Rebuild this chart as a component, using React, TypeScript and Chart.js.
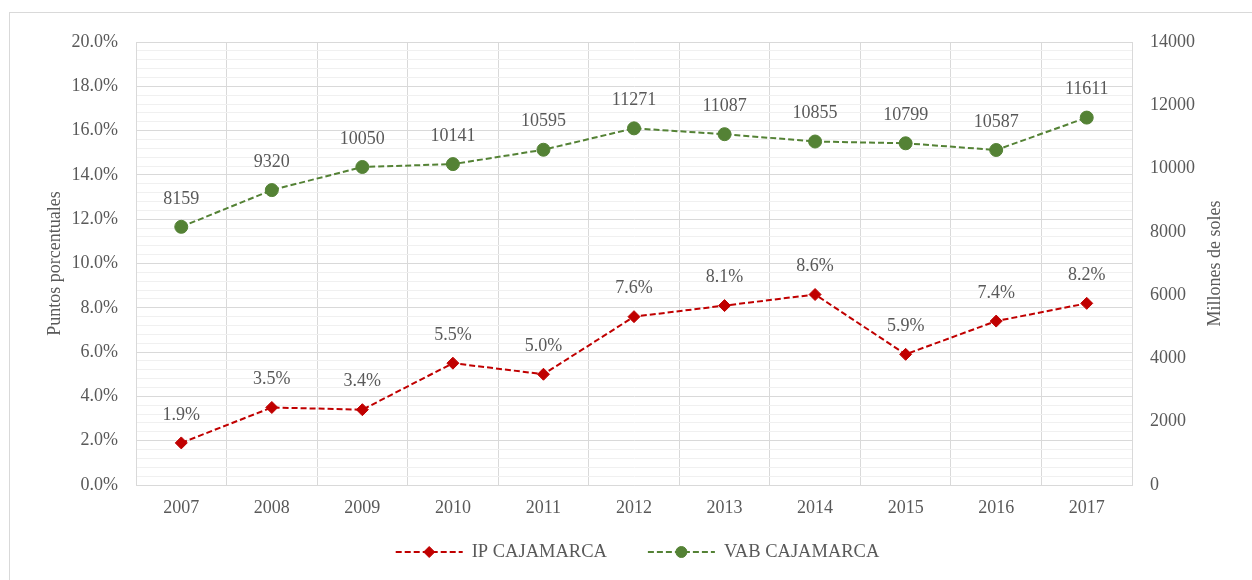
import React, { useEffect, useRef } from "react";
import { Chart, registerables } from "chart.js";

Chart.register(...registerables);

const categories = ["2007", "2008", "2009", "2010", "2011", "2012", "2013", "2014", "2015", "2016", "2017"];
const ipValues = [1.9, 3.5, 3.4, 5.5, 5.0, 7.6, 8.1, 8.6, 5.9, 7.4, 8.2];
const vabValues = [8159, 9320, 10050, 10141, 10595, 11271, 11087, 10855, 10799, 10587, 11611];
const ipLabel = "IP CAJAMARCA";
const vabLabel = "VAB CAJAMARCA";
const leftTitle = "Puntos porcentuales";
const rightTitle = "Millones de soles";
const pctMin = 0;
const pctMax = 20;
const pctMajorStep = 2;
const pctMinorStep = 0.4;
const solesMin = 0;
const solesMax = 14000;
const solesStep = 2000;

const FONT = "'Liberation Serif', 'Times New Roman', serif";
const TEXT = "#595959";
const RED = "#C00000";
const GREEN = "#548235";
const MAJOR = "#d9d9d9";
const MINOR = "#f0f0f0";

const isMajor = (v: number) => Math.abs(v / pctMajorStep - Math.round(v / pctMajorStep)) < 1e-6;

const decorPlugin = {
  id: "decor",
  afterDatasetsDraw(chart: any) {
    const ctx = chart.ctx;
    ctx.save();
    ctx.font = `18px ${FONT}`;
    ctx.fillStyle = TEXT;
    ctx.textAlign = "center";
    ctx.textBaseline = "middle";
    chart.data.datasets.forEach((ds: any, i: number) => {
      const meta = chart.getDatasetMeta(i);
      meta.data.forEach((pt: any, j: number) => {
        const v = ds.data[j];
        const txt = i === 0 ? v.toFixed(1) + "%" : String(v);
        ctx.fillText(txt, pt.x, pt.y - 28);
      });
    });
    ctx.restore();
  },
  afterDraw(chart: any) {
    const ctx = chart.ctx;
    const area = chart.chartArea;
    const cy = (area.top + area.bottom) / 2;
    ctx.save();
    // outer border
    ctx.strokeStyle = MAJOR;
    ctx.lineWidth = 1;
    ctx.strokeRect(9.5, 12.5, 3000, 3000);
    // axis titles
    ctx.font = `18px ${FONT}`;
    ctx.fillStyle = TEXT;
    ctx.textAlign = "center";
    ctx.textBaseline = "middle";
    ctx.save();
    ctx.translate(55, cy);
    ctx.rotate(-Math.PI / 2);
    ctx.fillText(leftTitle, 0, 0);
    ctx.restore();
    ctx.save();
    ctx.translate(1215, cy);
    ctx.rotate(-Math.PI / 2);
    ctx.fillText(rightTitle, 0, 0);
    ctx.restore();
    // legend
    ctx.font = `18.5px ${FONT}`;
    const sampleW = 67;
    const gap = 9;
    const spacing = 41;
    const items = chart.data.datasets.map((ds: any) => ({
      ds,
      tw: ctx.measureText(ds.label).width,
    }));
    const total = items.reduce((s: number, it: any) => s + sampleW + gap + it.tw, 0) + spacing * (items.length - 1);
    let x = 637.5 - total / 2;
    const ly = 552;
    items.forEach((it: any) => {
      const ds = it.ds;
      ctx.save();
      ctx.strokeStyle = ds.borderColor;
      ctx.lineWidth = 2;
      ctx.setLineDash(ds.borderDash);
      ctx.beginPath();
      ctx.moveTo(x, ly);
      ctx.lineTo(x + sampleW, ly);
      ctx.stroke();
      ctx.restore();
      ctx.save();
      ctx.fillStyle = ds.pointBackgroundColor;
      ctx.strokeStyle = ds.pointBorderColor;
      ctx.lineWidth = 1;
      const mx = x + sampleW / 2;
      ctx.beginPath();
      if (ds.pointStyle === "rectRot") {
        const r = 5.5;
        ctx.moveTo(mx - r, ly);
        ctx.lineTo(mx, ly - r);
        ctx.lineTo(mx + r, ly);
        ctx.lineTo(mx, ly + r);
        ctx.closePath();
      } else {
        ctx.arc(mx, ly, 5.5, 0, Math.PI * 2);
      }
      ctx.fill();
      ctx.stroke();
      ctx.restore();
      ctx.textAlign = "left";
      ctx.fillStyle = TEXT;
      ctx.fillText(ds.label, x + sampleW + gap, ly);
      x += sampleW + gap + it.tw + spacing;
    });
    ctx.restore();
  },
};

export default function App() {
  const ref = useRef<HTMLCanvasElement | null>(null);
  useEffect(() => {
    if (!ref.current) return;
    const chart = new Chart(ref.current, {
      type: "line",
      data: {
        labels: categories,
        datasets: [
          {
            label: ipLabel,
            data: ipValues,
            yAxisID: "y",
            borderColor: RED,
            backgroundColor: RED,
            borderWidth: 2,
            borderDash: [6, 3],
            pointStyle: "rectRot",
            pointRadius: 6,
            pointBorderWidth: 1,
            pointBackgroundColor: RED,
            pointBorderColor: RED,
            tension: 0,
          },
          {
            label: vabLabel,
            data: vabValues,
            yAxisID: "y1",
            borderColor: GREEN,
            backgroundColor: GREEN,
            borderWidth: 2,
            borderDash: [6, 3],
            pointStyle: "circle",
            pointRadius: 6.5,
            pointBorderWidth: 1,
            pointBackgroundColor: GREEN,
            pointBorderColor: GREEN,
            tension: 0,
          },
        ],
      } as any,
      options: {
        responsive: false,
        animation: false,
        layout: { padding: { top: 42, bottom: 0, left: 0, right: 0 } },
        plugins: {
          legend: { display: false },
          tooltip: { enabled: false },
        },
        scales: {
          x: {
            type: "category",
            offset: true,
            grid: { offset: true, color: MAJOR, lineWidth: 1, drawTicks: false },
            border: { color: MAJOR, width: 1 },
            ticks: { color: TEXT, font: { family: FONT, size: 18 }, padding: 12, maxRotation: 0, autoSkip: false },
            afterFit: (s: any) => {
              s.height = 95;
            },
          },
          y: {
            type: "linear",
            position: "left",
            min: pctMin,
            max: pctMax,
            grid: {
              color: (c: any) => (isMajor(c.tick.value) ? MAJOR : MINOR),
              lineWidth: 1,
              drawTicks: false,
            },
            border: { color: MAJOR, width: 1 },
            ticks: {
              stepSize: pctMinorStep,
              autoSkip: false,
              color: TEXT,
              font: { family: FONT, size: 18 },
              padding: 18,
              callback: (v: any) => (isMajor(Number(v)) ? Number(v).toFixed(1) + "%" : ""),
            },
            afterFit: (s: any) => {
              s.width = 136;
            },
          },
          y1: {
            type: "linear",
            position: "right",
            min: solesMin,
            max: solesMax,
            grid: { drawOnChartArea: false, drawTicks: false },
            border: { color: MAJOR, width: 1 },
            ticks: {
              stepSize: solesStep,
              color: TEXT,
              font: { family: FONT, size: 18 },
              padding: 18,
              callback: (v: any) => String(v),
            },
            afterFit: (s: any) => {
              s.width = 120;
            },
          },
        },
      } as any,
      plugins: [decorPlugin],
    });
    return () => chart.destroy();
  }, []);
  return (
    <div style={{ position: "fixed", left: 0, top: 0, width: 1252, height: 580, background: "#fff" }}>
      <canvas ref={ref} width={1252} height={580} style={{ display: "block" }} />
    </div>
  );
}
